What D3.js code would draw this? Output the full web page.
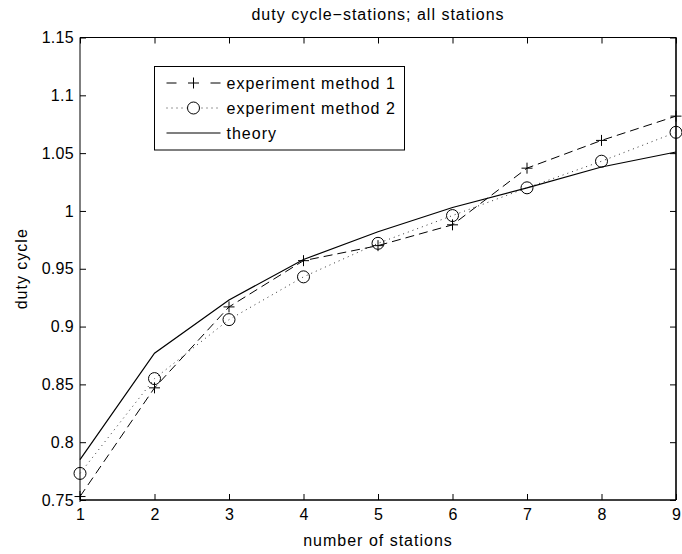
<!DOCTYPE html>
<html>
<head>
<meta charset="utf-8">
<script src="https://cdn.jsdelivr.net/npm/d3@7"></script>
<style>
  html, body { margin: 0; padding: 0; background: #fff; }
  svg { display: block; }
  text { font-family: "Liberation Sans", Arial, Helvetica, sans-serif; fill: #000; }
</style>
</head>
<body>
<svg id="chart" width="682" height="554"></svg>
<script>
// Number of stations on the x axis
const stations = [1, 2, 3, 4, 5, 6, 7, 8, 9];

// Duty cycle measured with the two experimental methods, and the theoretical curve
const method1 = [0.753, 0.847, 0.917, 0.957, 0.970, 0.988, 1.037, 1.061, 1.082];
const method2 = [0.773, 0.855, 0.906, 0.943, 0.972, 0.996, 1.020, 1.043, 1.068];
const theory  = [0.785, 0.877, 0.923, 0.958, 0.982, 1.003, 1.020, 1.038, 1.051];

const xTicks = [1, 2, 3, 4, 5, 6, 7, 8, 9];
const yTicks = [0.75, 0.8, 0.85, 0.9, 0.95, 1, 1.05, 1.1, 1.15];

const titleText = "duty cycle\u2212stations; all stations";
const xLabel = "number of stations";
const yLabel = "duty cycle";
const legendLabels = ["experiment method 1", "experiment method 2", "theory"];

const svg = d3.select("#chart");
const margin = { left: 80, right: 6, top: 37.5, bottom: 54 };
const W = 682, H = 554;
const x0 = margin.left, x1 = W - margin.right;
const y0 = H - margin.bottom, y1 = margin.top;

const x = d3.scaleLinear().domain([1, 9]).range([x0, x1]);
const y = d3.scaleLinear().domain([0.75, 1.15]).range([y0, y1]);

const fmt = v => String(+v.toFixed(2));
const tickLen = 6;
const fontSize = "16px";

// axes with inward ticks on all four sides
const axisB = svg.append("g").attr("transform", `translate(0,${y0})`)
  .call(d3.axisBottom(x).tickValues(xTicks).tickFormat(fmt).tickSizeInner(-tickLen).tickSizeOuter(0).tickPadding(9));
const axisT = svg.append("g").attr("transform", `translate(0,${y1})`)
  .call(d3.axisTop(x).tickValues(xTicks).tickFormat("").tickSizeInner(-tickLen).tickSizeOuter(0));
const axisL = svg.append("g").attr("transform", `translate(${x0},0)`)
  .call(d3.axisLeft(y).tickValues(yTicks).tickFormat(fmt).tickSizeInner(-tickLen).tickSizeOuter(0).tickPadding(6));
const axisR = svg.append("g").attr("transform", `translate(${x1},0)`)
  .call(d3.axisRight(y).tickValues(yTicks).tickFormat("").tickSizeInner(-tickLen).tickSizeOuter(0));

[axisB, axisT, axisL, axisR].forEach(g => {
  g.select(".domain").remove();
  g.selectAll(".tick line").attr("stroke", "#000").attr("stroke-width", 1);
  g.selectAll(".tick text").style("font-size", fontSize).style("letter-spacing", "0.3px").attr("fill", "#000");
});

// plot frame
svg.append("line").attr("x1", x0).attr("x2", x1).attr("y1", y1).attr("y2", y1).attr("stroke", "#000").attr("stroke-width", 1);
svg.append("line").attr("x1", x0).attr("x2", x0).attr("y1", y1).attr("y2", y0).attr("stroke", "#000").attr("stroke-width", 1);
svg.append("line").attr("x1", x0).attr("x2", x1).attr("y1", y0).attr("y2", y0).attr("stroke", "#000").attr("stroke-width", 1.6);
svg.append("line").attr("x1", x1).attr("x2", x1).attr("y1", y1).attr("y2", y0).attr("stroke", "#000").attr("stroke-width", 1.6);

// titles
const label = sel => sel.style("font-size", fontSize).style("letter-spacing", "1px");
svg.append("text").attr("x", (x0 + x1) / 2).attr("y", 20).attr("text-anchor", "middle")
  .call(label).text(titleText);
svg.append("text").attr("x", (x0 + x1) / 2).attr("y", 546).attr("text-anchor", "middle")
  .call(label).text(xLabel);
svg.append("text").attr("transform", `translate(27,${(y0 + y1) / 2}) rotate(-90)`).attr("text-anchor", "middle")
  .call(label).text(yLabel);

const series = [
  { values: method1, dash: "9,5", legendDash: "10,34", marker: "plus", color: "#000", width: 1 },
  { values: method2, dash: "1,4", legendDash: "1,4", marker: "circle", color: "#333", width: 1 },
  { values: theory,  dash: null,  legendDash: null, marker: null, color: "#000", width: 1.2 }
];

const line = d3.line().x((d, i) => x(stations[i])).y(d => y(d));
const plot = svg.append("g");

function drawMarker(g, type, cx, cy) {
  if (type === "plus") {
    g.append("path").attr("d", `M${cx - 5.5},${cy}H${cx + 5.5}M${cx},${cy - 5.5}V${cy + 5.5}`)
      .attr("stroke", "#000").attr("stroke-width", 1).attr("fill", "none");
  } else if (type === "circle") {
    g.append("circle").attr("cx", cx).attr("cy", cy).attr("r", 6)
      .attr("stroke", "#000").attr("stroke-width", 1).attr("fill", "none");
  }
}

series.forEach(s => {
  plot.append("path").datum(s.values).attr("d", line)
    .attr("fill", "none").attr("stroke", s.color).attr("stroke-width", s.width)
    .attr("stroke-dasharray", s.dash);
  if (s.marker) {
    s.values.forEach((v, i) => drawMarker(plot, s.marker, x(stations[i]), y(v)));
  }
});

// legend
const lg = svg.append("g");
const lx = 154.5, ly = 66.5, lw = 250, lh = 83.5;
lg.append("rect").attr("x", lx).attr("y", ly).attr("width", lw).attr("height", lh)
  .attr("fill", "#fff").attr("stroke", "#000").attr("stroke-width", 1);
series.forEach((s, i) => {
  const ry = ly + 16.5 + i * 25;
  lg.append("line").attr("x1", lx + 12).attr("x2", lx + 66).attr("y1", ry).attr("y2", ry)
    .attr("stroke", s.color).attr("stroke-width", s.width).attr("stroke-dasharray", s.legendDash);
  if (s.marker) {
    lg.append("rect").attr("x", lx + 32).attr("y", ry - 7).attr("width", 14).attr("height", 14).attr("fill", "#fff");
    drawMarker(lg, s.marker, lx + 39, ry);
  }
  lg.append("text").attr("x", lx + 72).attr("y", ry + 6).call(label).text(legendLabels[i]);
});
</script>
</body>
</html>
